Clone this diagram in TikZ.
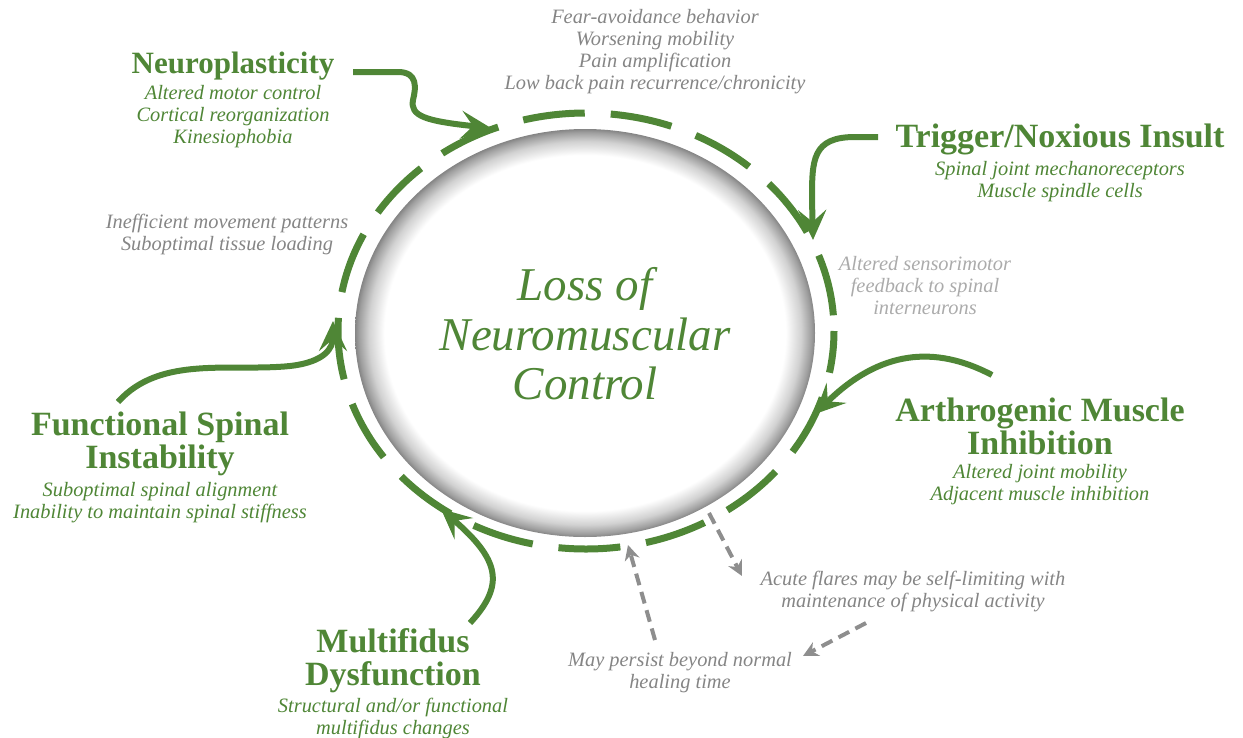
\documentclass[tikz,border=0pt]{standalone}
\usepackage{fontspec}
\setmainfont{Liberation Serif}
\usepackage{tikz}
\usetikzlibrary{arrows.meta,calc,positioning}
\definecolor{leafgreen}{HTML}{4F8636}
\definecolor{notegray}{HTML}{858585}
\definecolor{palegray}{HTML}{ABABAB}
\definecolor{flaregray}{HTML}{8E8E8E}
\pgfdeclareradialshading{rimshade}{\pgfpoint{0bp}{0bp}}{%
  color(0bp)=(white); color(21.8bp)=(white); color(23.5bp)=(black!18);
  color(24.6bp)=(black!38); color(25bp)=(black!48); color(50bp)=(black!48)}
\tikzset{
  headtext/.style={
    text=leafgreen,
    align=center,
    inner sep=0pt,
    font=\fontsize{34}{33}\selectfont\bfseries
  },
  subtext/.style={
    text=leafgreen,
    align=center,
    inner sep=0pt,
    font=\fontsize{20.4}{22}\selectfont\itshape
  },
  notetext/.style={subtext, text=notegray},
  paletext/.style={subtext, text=palegray},
  cycletext/.style={
    text=leafgreen,
    align=center,
    inner sep=0pt,
    font=\fontsize{47}{49.5}\selectfont\itshape
  },
  cyclering/.style={draw=leafgreen, line width=7pt, dash pattern=on 62pt off 26pt, dash phase=20pt},
  feedarrow/.style={-{Stealth[length=30pt,width=28pt,inset=12pt]}, line width=6pt, draw=leafgreen},
  flarearrow/.style={-{Stealth[length=15pt,width=15pt]}, line width=4pt, draw=flaregray, dash pattern=on 12pt off 7pt}
}
\begin{document}
\begin{tikzpicture}[x=1pt, y=-1pt]
  \useasboundingbox (0,0) rectangle (1243,737);
  % core
  \shade[shading=rimshade] (585,333) ellipse [x radius=230, y radius=204];
  \node[cycletext] (core) at (585,334) {Loss of\\Neuromuscular\\Control};
  \draw[cyclering] (586,331) ellipse [x radius=248, y radius=218];
  % factors
  \node[headtext, font=\fontsize{31}{33}\selectfont\bfseries] (neuro) at (233,66) {Neuroplasticity};
  \node[subtext, below=5pt of neuro] (neurosub) {Altered motor control\\Cortical reorganization\\Kinesiophobia};
  \node[headtext] (trigger) at (1060,139) {Trigger/Noxious Insult};
  \node[subtext, below=6pt of trigger] (triggersub) {Spinal joint mechanoreceptors\\Muscle spindle cells};
  \node[headtext] (ami) at (1040,426) {Arthrogenic Muscle\\Inhibition};
  \node[subtext, below=9pt of ami] (amisub) {Altered joint mobility\\Adjacent muscle inhibition};
  \node[headtext] (fsi) at (160,444) {Functional Spinal\\Instability};
  \node[subtext, below=6pt of fsi] (fsisub) {Suboptimal spinal alignment\\Inability to maintain spinal stiffness};
  \node[headtext] (multi) at (393,661) {Multifidus\\Dysfunction};
  \node[subtext, below=5pt of multi] (multisub) {Structural and/or functional\\multifidus changes};
  % notes
  \node[notetext] (outcomes) at (655,52) {Fear-avoidance behavior\\Worsening mobility\\Pain amplification\\Low back pain recurrence/chronicity};
  \node[notetext] (movement) at (227,234) {Inefficient movement patterns\\Suboptimal tissue loading};
  \node[paletext] (feedback) at (925,286) {Altered sensorimotor\\feedback to spinal\\interneurons};
  \node[notetext] (acute) at (913,592) {Acute flares may be self-limiting with\\maintenance of physical activity};
  \node[notetext] (persist) at (680,673) {May persist beyond normal\\healing time};
  % arrow ends
  \coordinate (neuroS) at (353,72);
  \coordinate (neuroT) at (491,128);
  \coordinate (triggerS) at (878,137);
  \coordinate (triggerT) at (813,240);
  \coordinate (amiS) at (992,375);
  \coordinate (amiT) at (815,414);
  \coordinate (multiS) at (470,623);
  \coordinate (multiT) at (441,509);
  \coordinate (fsiS) at (118,402);
  \coordinate (fsiT) at (333,321);
  \draw[feedarrow] (neuroS) -- (398,72) .. controls (418,72) and (416,88) .. (413,100)
    .. controls (410,116) and (425,121) .. (neuroT);
  \draw[feedarrow] (triggerS) -- (855,137) .. controls (812,137) and (812,160) .. (812,200) -- (triggerT);
  \draw[feedarrow] (amiS) .. controls (935,345) and (880,350) .. (amiT);
  \draw[feedarrow] (multiS) .. controls (505,585) and (500,560) .. (multiT);
  \draw[feedarrow] (fsiS) .. controls (160,355) and (230,372) .. (290,366)
    .. controls (325,362) and (333,348) .. (fsiT);
  % flare arrows
  \coordinate (persistS) at (655,640);
  \coordinate (persistT) at (628,545);
  \coordinate (acuteS) at (709,513);
  \coordinate (acuteT) at (742,576);
  \coordinate (backS) at (866,623);
  \coordinate (backT) at (803,656);
  \draw[flarearrow] (persistS) -- (persistT);
  \draw[flarearrow] (acuteS) -- (acuteT);
  \draw[flarearrow] (backS) -- (backT);
\end{tikzpicture}
\end{document}
